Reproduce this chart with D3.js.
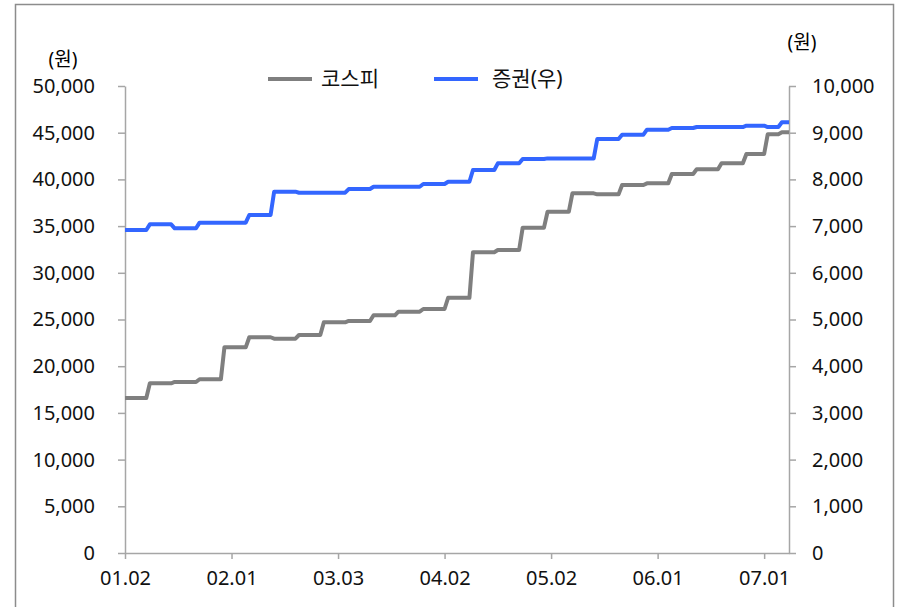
<!DOCTYPE html>
<html>
<head>
<meta charset="utf-8">
<script src="https://cdn.jsdelivr.net/npm/d3@7"></script>
<style>
  body { margin: 0; background: #fff; }
  svg { display: block; font-family: 'Noto Sans', 'Noto Sans CJK KR', sans-serif; }
  .axis text { font-family: 'Noto Sans', 'Noto Sans CJK KR', sans-serif; font-size: 20px; fill: #111; }
  .axis path, .axis line { stroke: #a6a6a6; stroke-width: 1.5; }
</style>
</head>
<body>
<script>
// weekly level changes, as day offsets from 01.02
const stepDays = [0, 7, 14, 21, 28, 35, 42, 49, 56, 63, 70, 77, 84, 91, 98, 105, 112, 119, 126, 133, 140, 147, 154, 161, 168, 175, 181, 185];
const lastDay = 187;

// 코스피 (left axis)
const kospi = [16600, 18170, 18310, 18600, 22020, 23100, 22950, 23340, 24700, 24840, 25450, 25840, 26125, 27330,
    32200, 32440, 34830, 36540, 38510, 38400, 39400, 39580, 40580, 41080, 41720, 42720, 44830, 45050];

// 증권(우) (right axis)
const securities = [6916, 7038, 6953, 7073, 7073, 7238, 7737, 7715, 7715, 7794, 7843, 7843, 7901, 7950,
    8201, 8344, 8437, 8450, 8450, 8865, 8957, 9064, 9100, 9122, 9122, 9150, 9122, 9222];

const tickDays = [0, 30, 60, 90, 120, 150, 180];
const tickLabels = ["01.02", "02.01", "03.03", "04.02", "05.02", "06.01", "07.01"];
const seriesNames = ["코스피", "증권(우)"];
const colors = ["#7f7f7f", "#3366ff"];

const margin = { top: 86, bottom: 54, left: 125, right: 110 };
const width = 899 - margin.left - margin.right;
const height = 607 - margin.top - margin.bottom;

const svg = d3
    .select("body")
    .append("svg")
    .attr("width", 899)
    .attr("height", 607);

// outer frame
svg.append("rect")
    .attr("x", 15.5)
    .attr("y", 4.5)
    .attr("width", 878)
    .attr("height", 620)
    .attr("fill", "none")
    .attr("stroke", "#8c8c8c")
    .attr("stroke-width", 1.5);

const g = svg.append("g")
    .attr("transform", `translate(${margin.left},${margin.top})`);

const xscale = d3.scaleLinear().domain([0, lastDay]).range([0, width]);
const yLeft = d3.scaleLinear().domain([0, 50000]).range([height, 0]);
const yRight = d3.scaleLinear().domain([0, 10000]).range([height, 0]);

createAxis();
createLines();
createLegend();

function createAxis() {
    const fmt = d3.format(",");

    g.append("g")
        .attr("class", "y axis")
        .call(d3.axisLeft(yLeft).ticks(10).tickFormat(fmt).tickSize(7).tickSizeOuter(0).tickPadding(23));

    g.append("g")
        .attr("class", "y2 axis")
        .attr("transform", `translate(${width},0)`)
        .call(d3.axisRight(yRight).ticks(10).tickFormat(fmt).tickSize(7).tickSizeOuter(0).tickPadding(16));

    g.append("g")
        .attr("class", "x axis")
        .attr("transform", `translate(0,${height})`)
        .call(d3.axisBottom(xscale).tickValues(tickDays)
            .tickFormat((d, i) => tickLabels[i])
            .tickSize(6).tickSizeOuter(0).tickPadding(12));

    // unit labels
    g.append("text")
        .attr("x", -62)
        .attr("y", -20)
        .attr("text-anchor", "middle")
        .style("font-size", "19px")
        .text("(원)");

    g.append("text")
        .attr("x", width + 13)
        .attr("y", -37)
        .attr("text-anchor", "middle")
        .style("font-size", "19px")
        .text("(원)");
}

function stepPoints(levels) {
    const pts = [];
    levels.forEach((v, k) => {
        const end = k < levels.length - 1 ? stepDays[k + 1] - 1 : lastDay;
        pts.push([stepDays[k], v]);
        pts.push([end, v]);
    });
    return pts;
}

function createLines() {
    const lineLeft = d3.line()
        .x(d => xscale(d[0]))
        .y(d => yLeft(d[1]));
    const lineRight = d3.line()
        .x(d => xscale(d[0]))
        .y(d => yRight(d[1]));

    g.append("path")
        .datum(stepPoints(securities))
        .attr("fill", "none")
        .attr("stroke", colors[1])
        .attr("stroke-width", 4)
        .attr("stroke-linejoin", "round")
        .attr("d", lineRight);

    g.append("path")
        .datum(stepPoints(kospi))
        .attr("fill", "none")
        .attr("stroke", colors[0])
        .attr("stroke-width", 4)
        .attr("stroke-linejoin", "round")
        .attr("d", lineLeft);
}

function createLegend() {
    const items = [
        { x: 268, textX: 321 },
        { x: 434, textX: 492 }
    ];
    const legend = svg.append("g").attr("class", "legend");
    items.forEach((it, i) => {
        legend.append("line")
            .attr("x1", it.x)
            .attr("x2", it.x + 44)
            .attr("y1", 79)
            .attr("y2", 79)
            .attr("stroke", colors[i])
            .attr("stroke-width", 4);
        legend.append("text")
            .attr("x", it.textX)
            .attr("y", 79)
            .attr("dy", "0.35em")
            .style("font-size", "21px")
            .attr("fill", "#111")
            .text(seriesNames[i]);
    });
}
</script>
</body>
</html>
